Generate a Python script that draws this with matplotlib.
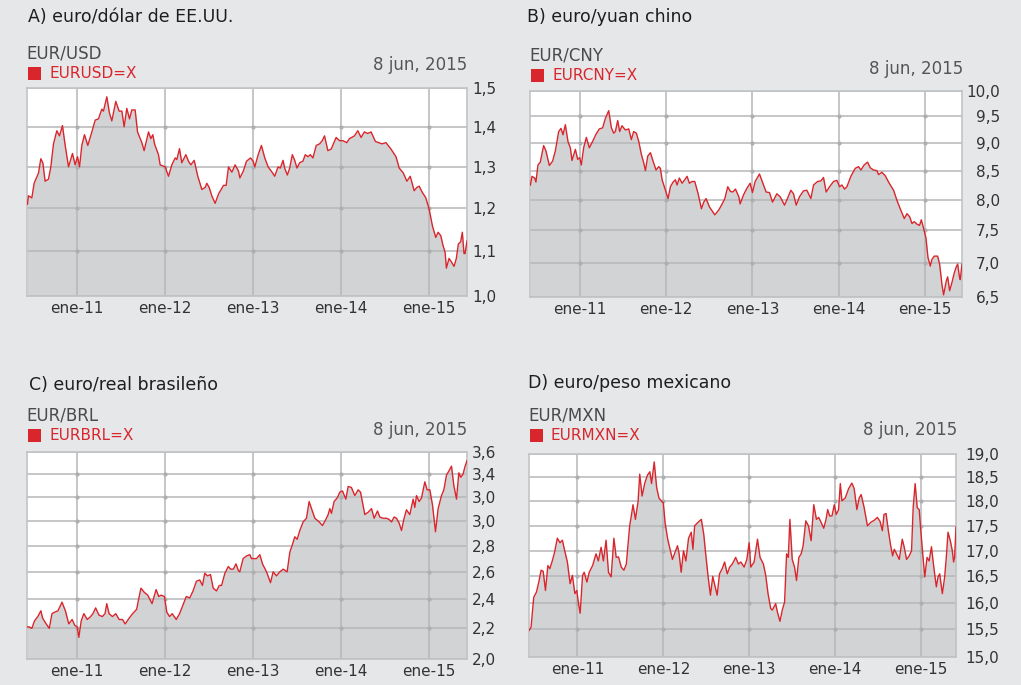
import numpy as np
import matplotlib
matplotlib.use("Agg")
import matplotlib.pyplot as plt
from matplotlib.patches import Rectangle

W, H, DPI = 1021, 685, 100
BG = "#e6e7e9"
FILL = "#d2d3d5"
RED = "#d9262c"
GRID = "#b6b7b9"
DOT = "#adaeb0"
FRAME = "#c2c3c5"

YEARS = [2011, 2012, 2013, 2014, 2015]
YEAR_LABELS = ["ene-11", "ene-12", "ene-13", "ene-14", "ene-15"]
DATE_TEXT = "8 jun, 2015"

# --- A) EUR/USD -----------------------------------------------------------
usd_t = [2010.435, 2010.447, 2010.485, 2010.511, 2010.561, 2010.587, 2010.610, 2010.636, 2010.674, 2010.701,
         2010.731, 2010.769, 2010.799, 2010.833, 2010.864, 2010.902, 2010.947, 2010.977, 2011.004, 2011.027,
         2011.053, 2011.083, 2011.121, 2011.167, 2011.205, 2011.242, 2011.280, 2011.299, 2011.337, 2011.367,
         2011.394, 2011.439, 2011.477, 2011.508, 2011.534, 2011.564, 2011.595, 2011.621, 2011.659, 2011.686,
         2011.735, 2011.761, 2011.811, 2011.837, 2011.860, 2011.879, 2011.924, 2011.943, 2012.000, 2012.038,
         2012.076, 2012.114, 2012.133, 2012.163, 2012.189, 2012.235, 2012.265, 2012.292, 2012.330, 2012.371,
         2012.417, 2012.455, 2012.473, 2012.500, 2012.530, 2012.568, 2012.606, 2012.663, 2012.693, 2012.720,
         2012.758, 2012.795, 2012.833,
         2012.849, 2012.887, 2012.925, 2012.970, 2013.000, 2013.019, 2013.057, 2013.094, 2013.132, 2013.170,
         2013.208, 2013.245, 2013.283, 2013.309, 2013.340, 2013.358, 2013.389, 2013.415, 2013.445, 2013.472,
         2013.498, 2013.528, 2013.566, 2013.592, 2013.623, 2013.649, 2013.679, 2013.717, 2013.755, 2013.785,
         2013.811, 2013.849, 2013.887, 2013.943, 2013.981, 2014.019, 2014.064, 2014.094, 2014.151, 2014.189,
         2014.226, 2014.264, 2014.302, 2014.340, 2014.389, 2014.426, 2014.464, 2014.509, 2014.566, 2014.623,
         2014.660, 2014.706, 2014.747, 2014.785, 2014.830, 2014.860, 2014.887, 2014.917, 2014.962, 2015.000,
         2015.038, 2015.075, 2015.102, 2015.132, 2015.158, 2015.181, 2015.196, 2015.226, 2015.253, 2015.283,
         2015.309, 2015.332, 2015.358, 2015.377, 2015.396, 2015.408, 2015.430]
usd_v = [1.21, 1.23, 1.225, 1.26, 1.285, 1.32, 1.31, 1.265, 1.27, 1.30,
         1.357, 1.39, 1.377, 1.403, 1.353, 1.30, 1.333, 1.305, 1.325, 1.30,
         1.353, 1.38, 1.353, 1.387, 1.417, 1.42, 1.445, 1.44, 1.477, 1.435,
         1.415, 1.465, 1.44, 1.44, 1.40, 1.447, 1.42, 1.443, 1.443, 1.387,
         1.36, 1.34, 1.387, 1.37, 1.38, 1.357, 1.33, 1.305, 1.30, 1.277,
         1.305, 1.322, 1.318, 1.345, 1.31, 1.33, 1.314, 1.305, 1.316, 1.277,
         1.245, 1.25, 1.26, 1.25, 1.23, 1.212, 1.234, 1.255, 1.255, 1.30,
         1.287, 1.305, 1.29,
         1.273, 1.289, 1.314, 1.322, 1.314, 1.30, 1.33, 1.353, 1.322, 1.30,
         1.289, 1.277, 1.30, 1.297, 1.316, 1.297, 1.28, 1.297, 1.33, 1.316,
         1.297, 1.31, 1.314, 1.33, 1.325, 1.33, 1.322, 1.353, 1.357, 1.365,
         1.377, 1.34, 1.344, 1.373, 1.365, 1.365, 1.36, 1.37, 1.377, 1.39,
         1.373, 1.387, 1.383, 1.387, 1.363, 1.36, 1.357, 1.36, 1.344, 1.325,
         1.297, 1.285, 1.265, 1.277, 1.242, 1.25, 1.253, 1.24, 1.225, 1.198,
         1.158, 1.132, 1.144, 1.136, 1.113, 1.098, 1.062, 1.084, 1.076, 1.066,
         1.084, 1.117, 1.122, 1.144, 1.095, 1.095, 1.124]
usd_ticks = [1.0, 1.1, 1.2, 1.3, 1.4, 1.5]
usd_labels = ["1,0", "1,1", "1,2", "1,3", "1,4", "1,5"]

# --- B) EUR/CNY -----------------------------------------------------------
cny_t = [2010.430, 2010.448, 2010.479, 2010.494, 2010.517, 2010.544, 2010.583, 2010.610, 2010.649, 2010.687,
         2010.718, 2010.757, 2010.784, 2010.807, 2010.834, 2010.865, 2010.892, 2010.911, 2010.950, 2010.977,
         2011.000, 2011.019, 2011.046, 2011.077, 2011.112, 2011.151, 2011.189, 2011.228, 2011.266, 2011.297,
         2011.336, 2011.367, 2011.394, 2011.413, 2011.440, 2011.463, 2011.490, 2011.529, 2011.568, 2011.598,
         2011.625, 2011.656, 2011.683, 2011.714, 2011.741, 2011.761, 2011.788, 2011.819, 2011.849, 2011.884,
         2011.915, 2011.934, 2011.954, 2011.992, 2012.023, 2012.050, 2012.081, 2012.108, 2012.127, 2012.154,
         2012.185, 2012.216, 2012.243, 2012.270, 2012.301, 2012.332, 2012.371, 2012.409, 2012.436, 2012.463,
         2012.502, 2012.564, 2012.610, 2012.649, 2012.680, 2012.714, 2012.745, 2012.772, 2012.803, 2012.842,
         2012.857, 2012.896, 2012.934, 2012.973, 2013.000, 2013.031, 2013.081, 2013.120, 2013.158, 2013.197,
         2013.232, 2013.282, 2013.320, 2013.371, 2013.405, 2013.444, 2013.475, 2013.506, 2013.544, 2013.591,
         2013.629, 2013.676, 2013.707, 2013.753, 2013.792, 2013.822, 2013.853, 2013.892, 2013.938, 2013.977,
         2014.008, 2014.035, 2014.066, 2014.093, 2014.139, 2014.189, 2014.228, 2014.255, 2014.293, 2014.332,
         2014.363, 2014.402, 2014.440, 2014.459, 2014.498, 2014.537, 2014.575, 2014.633, 2014.672, 2014.710,
         2014.757, 2014.788, 2014.819, 2014.846, 2014.873, 2014.903, 2014.934, 2014.954, 2014.981, 2015.008,
         2015.031, 2015.058, 2015.077, 2015.104, 2015.143, 2015.166, 2015.193, 2015.212, 2015.243, 2015.259,
         2015.282, 2015.309, 2015.336, 2015.359, 2015.375, 2015.394, 2015.405, 2015.425]
cny_v = [8.25, 8.40, 8.37, 8.30, 8.60, 8.65, 8.95, 8.85, 8.59, 8.67,
         8.85, 9.21, 9.27, 9.15, 9.34, 9.02, 8.91, 8.68, 8.88, 8.70,
         8.73, 8.60, 8.91, 9.10, 8.91, 9.03, 9.16, 9.26, 9.28, 9.46,
         9.61, 9.28, 9.18, 9.21, 9.42, 9.21, 9.32, 9.24, 9.26, 9.06,
         9.21, 9.18, 9.03, 8.79, 8.64, 8.50, 8.76, 8.82, 8.67, 8.51,
         8.57, 8.54, 8.34, 8.16, 8.02, 8.22, 8.30, 8.34, 8.25, 8.37,
         8.28, 8.34, 8.40, 8.28, 8.31, 8.31, 8.10, 7.85, 7.96, 8.02,
         7.88, 7.75, 7.83, 7.93, 8.02, 8.22, 8.14, 8.13, 8.18, 8.05,
         7.93, 8.08, 8.19, 8.28, 8.12, 8.31, 8.44, 8.28, 8.13, 8.12,
         7.96, 8.10, 8.05, 7.91, 8.02, 8.16, 8.10, 7.91, 8.05, 8.15,
         8.16, 8.02, 8.25, 8.31, 8.32, 8.38, 8.13, 8.22, 8.31, 8.33,
         8.22, 8.25, 8.18, 8.22, 8.40, 8.54, 8.57, 8.51, 8.60, 8.65,
         8.55, 8.51, 8.50, 8.43, 8.47, 8.41, 8.30, 8.16, 7.99, 7.85,
         7.69, 7.77, 7.72, 7.61, 7.64, 7.60, 7.58, 7.67, 7.53, 7.38,
         7.08, 6.95, 7.05, 7.10, 7.10, 6.98, 6.68, 6.53, 6.73, 6.79,
         6.59, 6.71, 6.85, 6.94, 6.98, 6.80, 6.75, 6.98]
cny_ticks = [6.5, 7.0, 7.5, 8.0, 8.5, 9.0, 9.5, 10.0]
cny_labels = ["6,5", "7,0", "7,5", "8,0", "8,5", "9,0", "9,5", "10,0"]

# --- C) EUR/BRL -----------------------------------------------------------
brl_t = [2010.435, 2010.454, 2010.485, 2010.515, 2010.553, 2010.588, 2010.607, 2010.637, 2010.683, 2010.714,
         2010.744, 2010.782, 2010.828, 2010.866, 2010.905, 2010.943, 2010.973, 2011.000, 2011.019, 2011.046,
         2011.076, 2011.115, 2011.153, 2011.179, 2011.210, 2011.248, 2011.286, 2011.317, 2011.336, 2011.363,
         2011.401, 2011.439, 2011.477, 2011.515, 2011.546, 2011.592, 2011.630, 2011.676, 2011.698, 2011.725,
         2011.763, 2011.802, 2011.851, 2011.897, 2011.927, 2011.954, 2011.992, 2012.019, 2012.050, 2012.080,
         2012.126, 2012.164, 2012.202, 2012.240, 2012.279, 2012.317, 2012.355, 2012.393, 2012.424, 2012.450,
         2012.481, 2012.515, 2012.546, 2012.584, 2012.615, 2012.641, 2012.679, 2012.718, 2012.744, 2012.775,
         2012.805, 2012.832,
         2012.848, 2012.886, 2012.924, 2012.962, 2012.981, 2013.038, 2013.076, 2013.106, 2013.152, 2013.197,
         2013.227, 2013.265, 2013.303, 2013.341, 2013.386, 2013.417, 2013.447, 2013.473, 2013.500, 2013.530,
         2013.568, 2013.606, 2013.636, 2013.663, 2013.701, 2013.750, 2013.788, 2013.826, 2013.852, 2013.871,
         2013.890, 2013.920, 2013.955, 2013.985, 2014.015, 2014.053, 2014.080, 2014.117, 2014.155, 2014.193,
         2014.220, 2014.269, 2014.307, 2014.345, 2014.375, 2014.413, 2014.439, 2014.477, 2014.515, 2014.545,
         2014.572, 2014.602, 2014.629, 2014.659, 2014.686, 2014.712, 2014.742, 2014.780, 2014.818, 2014.837,
         2014.856, 2014.886, 2014.913, 2014.951, 2014.977, 2015.008, 2015.038, 2015.072, 2015.102, 2015.140,
         2015.167, 2015.197, 2015.227, 2015.254, 2015.280, 2015.311, 2015.337, 2015.360, 2015.386, 2015.405,
         2015.430]
brl_v = [2.21, 2.21, 2.20, 2.25, 2.28, 2.32, 2.27, 2.24, 2.20, 2.30,
         2.31, 2.32, 2.38, 2.32, 2.23, 2.26, 2.22, 2.21, 2.14, 2.25,
         2.30, 2.26, 2.28, 2.30, 2.34, 2.29, 2.28, 2.30, 2.37, 2.30,
         2.28, 2.30, 2.26, 2.26, 2.23, 2.27, 2.30, 2.33, 2.40, 2.48,
         2.45, 2.43, 2.37, 2.47, 2.42, 2.43, 2.42, 2.31, 2.28, 2.30,
         2.26, 2.30, 2.36, 2.42, 2.41, 2.46, 2.53, 2.54, 2.50, 2.59,
         2.57, 2.58, 2.48, 2.46, 2.50, 2.50, 2.59, 2.64, 2.62, 2.62,
         2.66, 2.61,
         2.60, 2.70, 2.72, 2.73, 2.70, 2.70, 2.73, 2.66, 2.60, 2.52,
         2.60, 2.57, 2.60, 2.62, 2.60, 2.75, 2.81, 2.87, 2.85, 2.92,
         2.99, 3.02, 3.16, 3.10, 3.02, 2.99, 2.96, 3.01, 3.05, 3.10,
         3.06, 3.16, 3.19, 3.24, 3.25, 3.18, 3.29, 3.28, 3.21, 3.26,
         3.24, 3.05, 3.07, 3.10, 3.02, 3.08, 3.03, 3.02, 3.02, 3.01,
         2.99, 3.03, 3.02, 2.98, 2.92, 3.01, 3.09, 3.05, 3.18, 3.11,
         3.21, 3.16, 3.19, 3.33, 3.26, 3.26, 3.13, 2.91, 3.10, 3.21,
         3.26, 3.39, 3.43, 3.47, 3.30, 3.18, 3.41, 3.37, 3.40, 3.46,
         3.52]
brl_ticks = [2.0, 2.2, 2.4, 2.6, 2.8, 3.0, 3.2, 3.4, 3.6]
brl_labels = ["2,0", "2,2", "2,4", "2,6", "2,8", "3,0", "3,0", "3,4", "3,6"]

# --- D) EUR/MXN -----------------------------------------------------------
mxn_t = [2010.435, 2010.459, 2010.490, 2010.522, 2010.549, 2010.576, 2010.600, 2010.627, 2010.655, 2010.678,
         2010.706, 2010.733, 2010.765, 2010.796, 2010.824, 2010.851, 2010.882, 2010.914, 2010.941, 2010.969,
         2010.992, 2011.012, 2011.031, 2011.059, 2011.078, 2011.110, 2011.137, 2011.176, 2011.216, 2011.243,
         2011.275, 2011.302, 2011.333, 2011.361, 2011.392, 2011.424, 2011.451, 2011.478, 2011.510, 2011.541,
         2011.569, 2011.608, 2011.627, 2011.647, 2011.675, 2011.706, 2011.725, 2011.753, 2011.784, 2011.816,
         2011.843, 2011.863, 2011.894, 2011.922, 2011.949, 2011.980, 2012.000, 2012.020, 2012.051, 2012.078,
         2012.106, 2012.137, 2012.165, 2012.184, 2012.208, 2012.235, 2012.263, 2012.294, 2012.325, 2012.345,
         2012.365, 2012.404, 2012.443, 2012.471, 2012.490, 2012.522, 2012.549, 2012.576, 2012.600, 2012.627,
         2012.655, 2012.686, 2012.714, 2012.745, 2012.773, 2012.804, 2012.843, 2012.875,
         2012.903, 2012.942, 2012.973, 2013.000, 2013.019, 2013.058, 2013.097, 2013.127, 2013.166, 2013.193,
         2013.220, 2013.251, 2013.270, 2013.290, 2013.309, 2013.328, 2013.359, 2013.386, 2013.413, 2013.436,
         2013.456, 2013.475, 2013.502, 2013.529, 2013.552, 2013.579, 2013.606, 2013.629, 2013.660, 2013.691,
         2013.722, 2013.753, 2013.784, 2013.811, 2013.838, 2013.869, 2013.896, 2013.915, 2013.938, 2013.965,
         2013.992, 2014.015, 2014.042, 2014.062, 2014.081, 2014.120, 2014.158, 2014.197, 2014.224, 2014.255,
         2014.282, 2014.305, 2014.340, 2014.378, 2014.417, 2014.456, 2014.494, 2014.525, 2014.552, 2014.571,
         2014.595, 2014.622, 2014.649, 2014.672, 2014.691, 2014.718, 2014.749, 2014.784, 2014.807, 2014.834,
         2014.865, 2014.892, 2014.911, 2014.934, 2014.958, 2014.981, 2014.996, 2015.019, 2015.046, 2015.073,
         2015.097, 2015.124, 2015.151, 2015.181, 2015.201, 2015.220, 2015.251, 2015.278, 2015.297, 2015.317,
         2015.344, 2015.367, 2015.382, 2015.394, 2015.410]
mxn_v = [15.48, 15.54, 16.10, 16.20, 16.39, 16.62, 16.60, 16.23, 16.71, 16.65,
         16.80, 16.97, 17.25, 17.16, 17.21, 17.00, 16.78, 16.36, 16.52, 16.17,
         16.23, 15.98, 15.80, 16.52, 16.58, 16.39, 16.58, 16.71, 16.94, 16.80,
         17.07, 16.80, 17.21, 16.58, 16.49, 17.25, 16.87, 16.88, 16.68, 16.62,
         16.74, 17.50, 17.70, 17.93, 17.63, 18.00, 18.57, 18.11, 18.38, 18.55,
         18.62, 18.37, 18.83, 18.29, 18.07, 18.00, 17.97, 17.57, 17.23, 17.03,
         16.83, 16.97, 17.10, 16.94, 16.58, 17.00, 16.80, 17.25, 17.37, 17.03,
         17.50, 17.57, 17.63, 17.33, 17.00, 16.49, 16.14, 16.50, 16.33, 16.14,
         16.55, 16.65, 16.78, 16.55, 16.68, 16.74, 16.87, 16.74,
         16.78, 16.68, 16.83, 17.16, 16.68, 16.78, 17.23, 16.87, 16.74, 16.52,
         16.17, 15.89, 15.86, 15.92, 15.98, 15.83, 15.65, 15.86, 16.01, 16.94,
         16.87, 17.63, 16.83, 16.68, 16.42, 16.87, 16.94, 17.10, 17.60, 17.50,
         17.20, 17.93, 17.63, 17.67, 17.57, 17.45, 17.63, 17.83, 17.70, 17.70,
         17.93, 17.73, 17.83, 18.37, 18.01, 18.07, 18.26, 18.38, 18.26, 17.83,
         18.07, 18.14, 17.87, 17.50, 17.57, 17.61, 17.67, 17.59, 17.40, 17.73,
         17.75, 17.40, 17.10, 16.90, 17.03, 16.94, 16.83, 17.23, 17.07, 16.83,
         16.90, 17.00, 17.87, 18.37, 17.87, 17.83, 17.50, 17.00, 16.49, 16.87,
         16.80, 17.08, 16.68, 16.30, 16.49, 16.55, 16.17, 16.49, 16.87, 17.37,
         17.20, 17.00, 16.78, 16.87, 17.48]
mxn_ticks = [15.0, 15.5, 16.0, 16.5, 17.0, 17.5, 18.0, 18.5, 19.0]
mxn_labels = ["15,0", "15,5", "16,0", "16,5", "17,0", "17,5", "18,0", "18,5", "19,0"]

# layout in pixels: plot box (left, top, right, bottom), header anchors, y shift of the scale
panels = [
    dict(title="A) euro/dólar de EE.UU.", pair="EUR/USD", ticker="EURUSD=X",
         t=usd_t, v=usd_v, ticks=usd_ticks, labels=usd_labels, shift=1.6,
         box=(27, 88, 467, 296), xlim=(2010.43, 2015.43), title_xy=(28, 17),
         pair_y=53, tick_y=73, date_xy=(467, 65), ypad=21.5),
    dict(title="B) euro/yuan chino", pair="EUR/CNY", ticker="EURCNY=X",
         t=cny_t, v=cny_v, ticks=cny_ticks, labels=cny_labels, shift=1.8,
         box=(530, 91, 962, 297), xlim=(2010.425, 2015.425), title_xy=(527, 17),
         pair_y=56, tick_y=75, date_xy=(963, 69), ypad=27.5),
    dict(title="C) euro/real brasileño", pair="EUR/BRL", ticker="EURBRL=X",
         t=brl_t, v=brl_v, ticks=brl_ticks, labels=brl_labels, shift=1.43,
         box=(27, 452, 467, 659), xlim=(2010.43, 2015.43), title_xy=(29, 385),
         pair_y=416, tick_y=435, date_xy=(467, 430), ypad=21),
    dict(title="D) euro/peso mexicano", pair="EUR/MXN", ticker="EURMXN=X",
         t=mxn_t, v=mxn_v, ticks=mxn_ticks, labels=mxn_labels, shift=4.6,
         box=(529, 454, 956, 657), xlim=(2010.435, 2015.41), title_xy=(528, 383),
         pair_y=416, tick_y=435, date_xy=(957, 430), ypad=31),
]


def fx(x):
    return x / W


def fy(y):
    return 1 - y / H


fig = plt.figure(figsize=(W / DPI, H / DPI), dpi=DPI)
fig.patch.set_facecolor(BG)

for p in panels:
    l, t, r, b = p["box"]
    ax = fig.add_axes([fx(l), fy(b), (r - l) / W, (b - t) / H])
    ax.set_facecolor("white")

    c = p["shift"]
    ax.set_yscale("function", functions=(lambda v, c=c: np.log(np.clip(np.asarray(v) + c, 1e-6, None)),
                                         lambda y, c=c: np.exp(y) - c))
    lo, hi = p["ticks"][0], p["ticks"][-1]
    ax.set_ylim(lo, hi)
    ax.set_xlim(*p["xlim"])

    ax.fill_between(p["t"], p["v"], lo, color=FILL, lw=0, zorder=1)
    ax.plot(p["t"], p["v"], color=RED, lw=1.0, zorder=3)

    ax.set_xticks(YEARS, YEAR_LABELS)
    ax.set_yticks(p["ticks"], p["labels"])
    ax.yaxis.tick_right()
    ax.grid(True, color=GRID, lw=1.1, zorder=1.5)
    # small markers where the grid lines cross
    gx, gy = np.meshgrid(YEARS, p["ticks"][1:-1])
    ax.plot(gx.ravel(), gy.ravel(), "o", ms=2.0, color=DOT, zorder=1.6)

    ax.tick_params(length=0, labelsize=11, colors="#333333")
    ax.tick_params(axis="x", pad=3.5)
    ax.tick_params(axis="y", pad=p["ypad"])
    for lbl in ax.get_yticklabels():
        lbl.set_horizontalalignment("right")
    for s in ax.spines.values():
        s.set_color(FRAME)
        s.set_linewidth(1.2)

    # header texts
    tx, ty = p["title_xy"]
    fig.text(fx(tx), fy(ty), p["title"], fontsize=12.5, color="#1e1e1e", va="center", ha="left")
    fig.text(fx(l - 1), fy(p["pair_y"]), p["pair"], fontsize=12, color="#4a4a4a", va="center", ha="left")
    sq = 13
    fig.patches.append(Rectangle((fx(l + 1), fy(p["tick_y"] + sq / 2)), sq / W, sq / H,
                                 transform=fig.transFigure, color=RED, lw=0))
    fig.text(fx(l + 22), fy(p["tick_y"]), p["ticker"], fontsize=11, color=RED, va="center", ha="left")
    dx, dy = p["date_xy"]
    fig.text(fx(dx), fy(dy), DATE_TEXT, fontsize=12, color="#555555", va="center", ha="right")

fig.savefig("out.png", dpi=DPI, facecolor=BG)
